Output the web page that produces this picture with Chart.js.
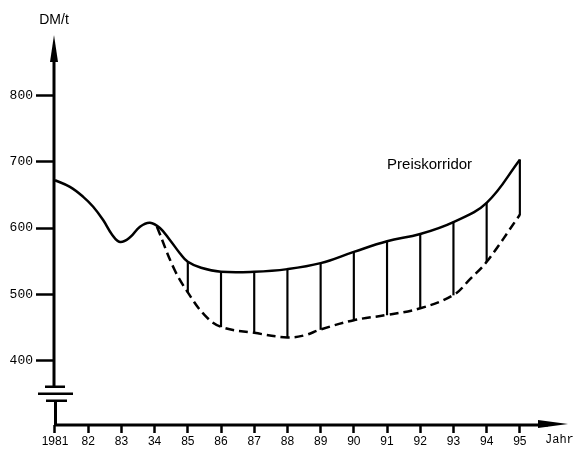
<!DOCTYPE html>
<html>
<head>
<meta charset="utf-8">
<script src="https://cdn.jsdelivr.net/npm/chart.js@4/dist/chart.umd.min.js"></script>
<style>
  html, body { margin: 0; padding: 0; background: #fff; }
  #wrap { width: 577px; height: 450px; }
</style>
</head>
<body>
<div id="wrap"><canvas id="chart"></canvas></div>
<script>
// upper edge of the price corridor (solid line)
const upperYears = [1981, 1981.45, 1981.85, 1982.15, 1982.45, 1982.72, 1982.96, 1983.26, 1983.56, 1983.86, 1984.16, 1984.46, 1984.76, 1985, 1985.4, 1986, 1987, 1988, 1989, 1990, 1991, 1992, 1993, 1994, 1995];
const upperPrice = [672, 662, 647, 632, 612, 590, 579, 586, 602, 608, 600, 582, 562, 549, 540, 534, 534, 538, 547, 564, 580, 591, 609, 638, 703];

// lower edge of the corridor (dashed line)
const lowerYears = [1984.07, 1984.6, 1985, 1985.5, 1986, 1987, 1988, 1988.5, 1989, 1990, 1991, 1992, 1993, 1993.5, 1994, 1995];
const lowerPrice = [602, 537, 503, 469, 451, 442, 435, 438, 447, 461, 469, 479, 499, 523, 549, 620];

// hatching between the two edges
const hatchYears = [1985, 1986, 1987, 1988, 1989, 1990, 1991, 1992, 1993, 1994, 1995];

const xTickYears = [1981, 1982, 1983, 1984, 1985, 1986, 1987, 1988, 1989, 1990, 1991, 1992, 1993, 1994, 1995];
const xTickLabels = ['1981', '82', '83', '34', '85', '86', '87', '88', '89', '90', '91', '92', '93', '94', '95'];
const yTickValues = [400, 500, 600, 700, 800];

const upperData = upperYears.map((x, i) => ({ x, y: upperPrice[i] }));
const lowerData = lowerYears.map((x, i) => ({ x, y: lowerPrice[i] }));
const hatchData = hatchYears.map(x => ({
  x,
  y: [lowerPrice[lowerYears.indexOf(x)], upperPrice[upperYears.indexOf(x)]],
}));

const INK = '#000';

const axesPlugin = {
  id: 'handAxes',
  afterDraw(chart) {
    const { ctx, chartArea: a, scales } = chart;
    const ax = a.left;
    const ay = a.bottom;
    const brk = scales.y.getPixelForValue(350);
    ctx.save();
    ctx.strokeStyle = INK;
    ctx.fillStyle = INK;
    ctx.lineWidth = 3;
    ctx.lineCap = 'butt';

    // y axis, broken near the bottom
    ctx.beginPath();
    ctx.moveTo(ax, a.top + 20);
    ctx.lineTo(ax, brk - 7);
    ctx.moveTo(ax + 1.5, brk + 7);
    ctx.lineTo(ax + 1.5, ay);
    ctx.stroke();
    ctx.lineWidth = 2.5;
    ctx.beginPath();
    ctx.moveTo(ax - 9, brk - 7); ctx.lineTo(ax + 11, brk - 7);
    ctx.moveTo(ax - 16, brk); ctx.lineTo(ax + 19, brk);
    ctx.moveTo(ax - 8, brk + 7); ctx.lineTo(ax + 13, brk + 7);
    ctx.stroke();
    // y arrow head
    ctx.beginPath();
    ctx.moveTo(ax, a.top);
    ctx.lineTo(ax + 4, a.top + 27);
    ctx.lineTo(ax - 4, a.top + 27);
    ctx.closePath();
    ctx.fill();

    // x axis
    ctx.lineWidth = 3;
    ctx.beginPath();
    ctx.moveTo(ax, ay);
    ctx.lineTo(a.right - 20, ay);
    ctx.stroke();
    ctx.beginPath();
    ctx.moveTo(a.right, ay - 1);
    ctx.lineTo(a.right - 30, ay - 5);
    ctx.lineTo(a.right - 30, ay + 3);
    ctx.closePath();
    ctx.fill();

    // texts
    ctx.font = '14px "Liberation Sans", Arial, sans-serif';
    ctx.textAlign = 'center';
    ctx.textBaseline = 'middle';
    ctx.fillText('DM/t', ax, a.top - 15);
    ctx.font = '12px "Liberation Mono", "Courier New", monospace';
    ctx.textAlign = 'left';
    ctx.fillText('Jahr', a.right - 23, ay + 15);
    ctx.font = '15px "Liberation Sans", Arial, sans-serif';
    ctx.textBaseline = 'alphabetic';
    ctx.fillText('Preiskorridor', scales.x.getPixelForValue(1991), scales.y.getPixelForValue(689));
    ctx.restore();
  },
};

new Chart(document.getElementById('chart'), {
  type: 'line',
  data: {
    datasets: [
      {
        data: upperData,
        borderColor: INK,
        borderWidth: 2.5,
        pointRadius: 0,
        tension: 0.4,
        fill: false,
      },
      {
        data: lowerData,
        borderColor: INK,
        borderWidth: 2.5,
        borderDash: [9, 5],
        pointRadius: 0,
        tension: 0.4,
        fill: false,
      },
      {
        type: 'bar',
        data: hatchData,
        backgroundColor: INK,
        borderWidth: 0,
        barThickness: 1.5,
      },
    ],
  },
  options: {
    responsive: true,
    maintainAspectRatio: false,
    animation: false,
    events: [],
    layout: { padding: { left: 0, right: 9, top: 35, bottom: 0 } },
    plugins: {
      legend: { display: false },
      tooltip: { enabled: false },
    },
    scales: {
      x: {
        type: 'linear',
        min: 1980.97,
        max: 1996.45,
        offset: false,
        afterFit: (axis) => { axis.height = 25; },
        afterBuildTicks: (axis) => { axis.ticks = xTickYears.map(value => ({ value })); },
        border: { display: false },
        grid: {
          offset: false,
          drawOnChartArea: false,
          drawTicks: true,
          tickLength: 8,
          tickWidth: 2.5,
          tickColor: INK,
        },
        ticks: {
          color: INK,
          padding: 1,
          maxRotation: 0,
          autoSkip: false,
          font: { family: '"Liberation Sans", Arial, sans-serif', size: 12 },
          callback: (v) => xTickLabels[xTickYears.indexOf(v)],
        },
      },
      y: {
        min: 303,
        max: 891,
        afterFit: (axis) => { axis.width = 54; },
        afterBuildTicks: (axis) => { axis.ticks = yTickValues.map(value => ({ value })); },
        border: { display: false },
        grid: {
          drawOnChartArea: false,
          drawTicks: true,
          tickLength: 18,
          tickWidth: 2.5,
          tickColor: INK,
        },
        ticks: {
          color: INK,
          padding: 3,
          font: { family: '"Liberation Mono", "Courier New", monospace', size: 13 },
        },
      },
    },
  },
  plugins: [axesPlugin],
});
</script>
</body>
</html>
